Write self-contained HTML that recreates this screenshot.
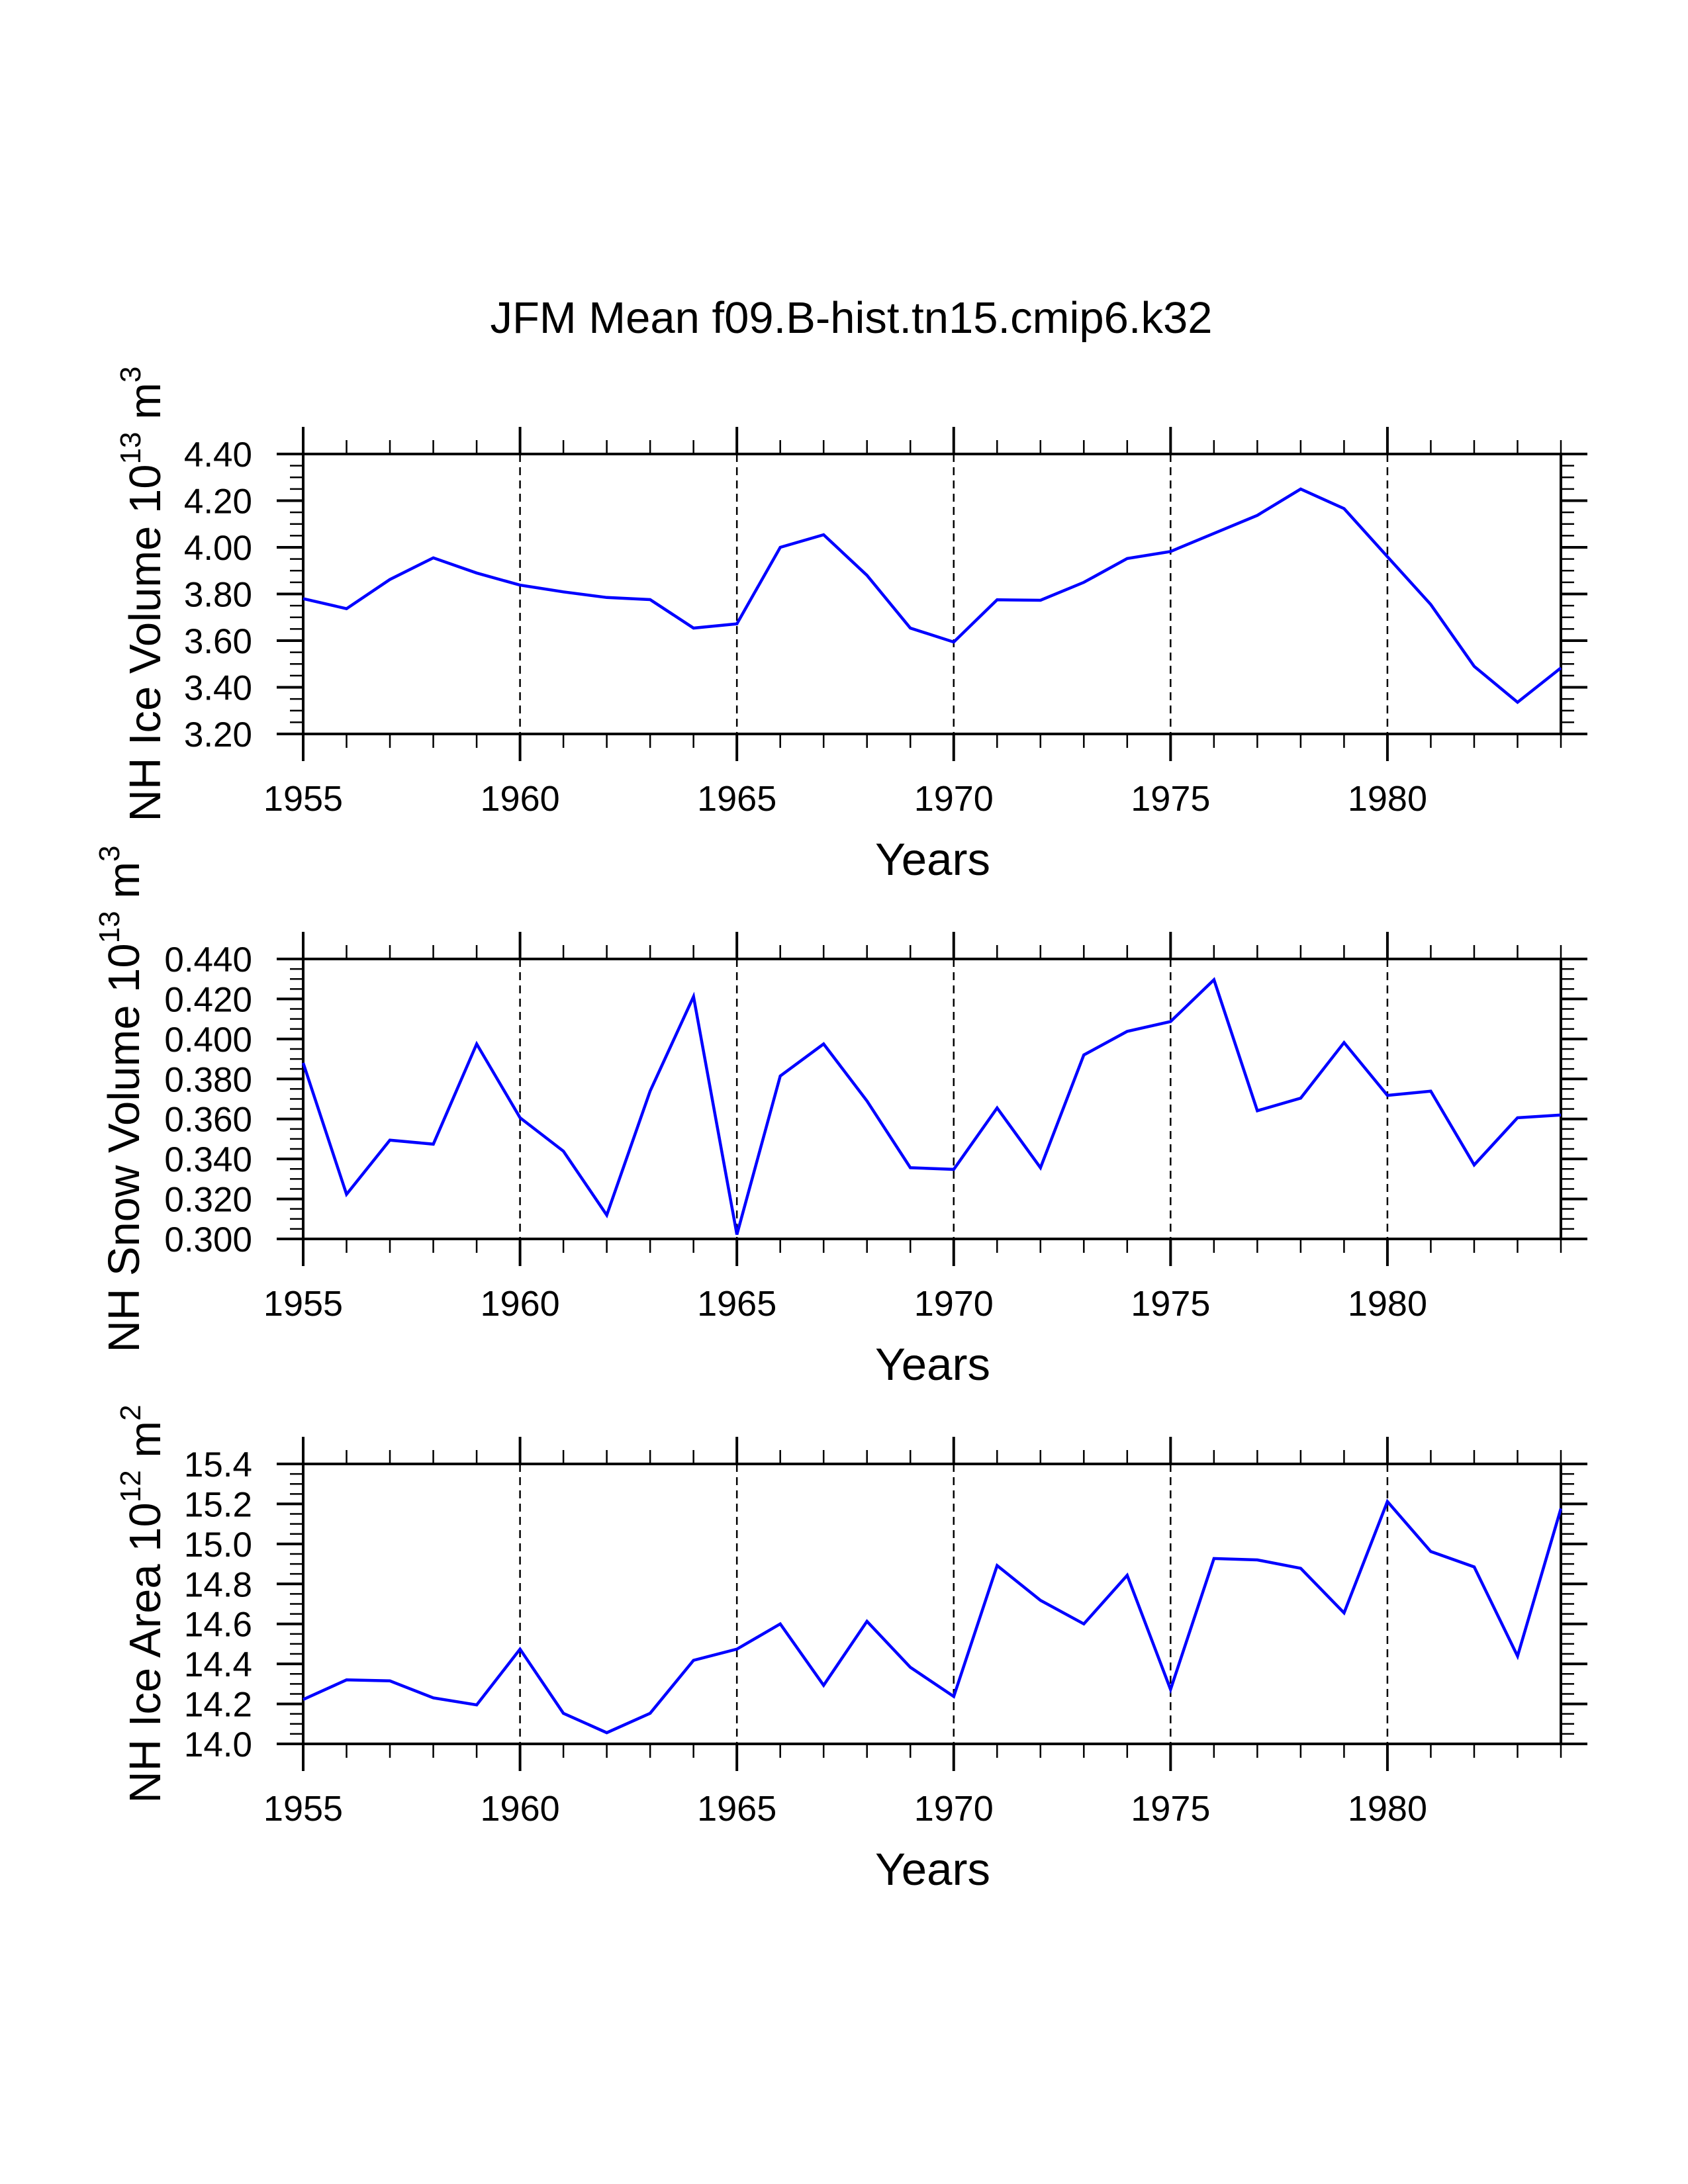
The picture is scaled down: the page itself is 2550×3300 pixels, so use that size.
<!DOCTYPE html>
<html><head><meta charset="utf-8"><style>
html,body{margin:0;padding:0;background:#fff}
svg{display:block}
text{font-family:"Liberation Sans",Arial,sans-serif;fill:#000}
</style></head><body>
<svg id="chart" width="2550" height="3300" viewBox="0 0 2550 3300" xmlns="http://www.w3.org/2000/svg">
<rect width="2550" height="3300" fill="#fff"/>
<text x="1286" y="503" font-size="67" text-anchor="middle">JFM Mean f09.B-hist.tn15.cmip6.k32</text>
</svg>
<script>
const years = [1955,1956,1957,1958,1959,1960,1961,1962,1963,1964,1965,1966,1967,1968,1969,1970,1971,1972,1973,1974,1975,1976,1977,1978,1979,1980,1981,1982,1983,1984];
const iceVolume = [3.78,3.737,3.862,3.955,3.89,3.838,3.809,3.785,3.776,3.654,3.672,4.00,4.054,3.88,3.654,3.594,3.775,3.773,3.85,3.952,3.982,4.06,4.137,4.25,4.166,3.96,3.755,3.49,3.336,3.483];
const snowVolume = [0.388,0.3223,0.3494,0.3474,0.3975,0.3606,0.3439,0.3119,0.3739,0.4212,0.3022,0.3815,0.3975,0.369,0.3356,0.3348,0.3655,0.3356,0.392,0.4038,0.4087,0.4296,0.3641,0.3704,0.3982,0.3718,0.3739,0.337,0.3606,0.362];
const iceArea = [14.222,14.32,14.315,14.23,14.195,14.474,14.153,14.056,14.153,14.418,14.474,14.60,14.293,14.613,14.383,14.237,14.892,14.718,14.60,14.843,14.272,14.927,14.92,14.878,14.655,15.212,14.962,14.885,14.439,15.177];
const xTickLabels = ["1955","1960","1965","1970","1975","1980"];
const iceVolTicks = ["3.20","3.40","3.60","3.80","4.00","4.20","4.40"];
const snowVolTicks = ["0.300","0.320","0.340","0.360","0.380","0.400","0.420","0.440"];
const iceAreaTicks = ["14.0","14.2","14.4","14.6","14.8","15.0","15.2","15.4"];

const NS = "http://www.w3.org/2000/svg";
const svg = document.getElementById('chart');
const X0 = 458, X1 = 2358, PH = 423;
const xMin = 1955, xMax = 1984;
function xScale(v){ return X0 + (v - xMin) / (xMax - xMin) * (X1 - X0); }
function mk(tag, attrs, parent){ const e = document.createElementNS(NS, tag); for (const k in attrs) e.setAttribute(k, attrs[k]); (parent||svg).appendChild(e); return e; }

const panels = [
  {name:'ice-volume', top:686, ticks:iceVolTicks, vals:iceVolume, minorDiv:4, labelX:242, title:'NH Ice Volume 10', exp:'13', unit:' m', uexp:'3'},
  {name:'snow-volume', top:1449, ticks:snowVolTicks, vals:snowVolume, minorDiv:4, labelX:210, title:'NH Snow Volume 10', exp:'13', unit:' m', uexp:'3'},
  {name:'ice-area', top:2212, ticks:iceAreaTicks, vals:iceArea, minorDiv:4, labelX:242, title:'NH Ice Area 10', exp:'12', unit:' m', uexp:'2'}
];

panels.forEach(p => {
  const g = mk('g', {});
  
  
  const yMin = parseFloat(p.ticks[0]), yMax = parseFloat(p.ticks[p.ticks.length-1]);
  const Y0 = p.top, Y1 = p.top + PH;
  const yScale = v => Y1 - (v - yMin) / (yMax - yMin) * PH;

  // grid lines (dashed) at 5-year majors interior
  for (let yr = 1960; yr <= 1980; yr += 5) {
    const gl = mk('line', {x1:xScale(yr), x2:xScale(yr), y1:Y0, y2:Y1, stroke:'#000', 'stroke-width':2.5, 'stroke-dasharray':'12 8'}, g);
    
    
  }
  // x ticks
  for (let yr = xMin; yr <= xMax; yr++) {
    const major = (yr % 5 === 0);
    const len = major ? 41 : 21;
    const w = major ? 4 : 2.5;
    mk('line', {x1:xScale(yr), x2:xScale(yr), y1:Y0, y2:Y0 - len, stroke:'#000', 'stroke-width':w}, g);
    mk('line', {x1:xScale(yr), x2:xScale(yr), y1:Y1, y2:Y1 + len, stroke:'#000', 'stroke-width':w}, g);
  }
  // y ticks
  const n = p.ticks.length - 1;
  for (let i = 0; i <= n * p.minorDiv; i++) {
    const v = yMin + (yMax - yMin) * i / (n * p.minorDiv);
    const y = yScale(v);
    const major = (i % p.minorDiv === 0);
    const len = major ? 40 : 20;
    const w = major ? 4 : 2.5;
    mk('line', {x1:X0, x2:X0 - len, y1:y, y2:y, stroke:'#000', 'stroke-width':w}, g);
    mk('line', {x1:X1, x2:X1 + len, y1:y, y2:y, stroke:'#000', 'stroke-width':w}, g);
  }
  // frame
  const fr = mk('rect', {x:X0, y:Y0, width:X1 - X0, height:PH, fill:'none', stroke:'#000', 'stroke-width':4}, g);
  
  
  // y tick labels
  p.ticks.forEach(t => {
    const tx = mk('text', {x:381, y:yScale(parseFloat(t)) + 19, 'font-size':53, 'text-anchor':'end'}, g);
    tx.textContent = t;
    
    
  });
  // x tick labels
  xTickLabels.forEach(t => {
    const tx = mk('text', {x:xScale(parseFloat(t)), y:Y1 + 116, 'font-size':54, 'text-anchor':'middle'}, g);
    tx.textContent = t;
    
    
  });
  // x axis title
  const xt = mk('text', {x:1409, y:Y1 + 213, 'font-size':69, 'text-anchor':'middle'}, g);
  xt.textContent = 'Years';
  
  
  // y axis title
  const cy = Y0 + PH / 2;
  const yt = mk('text', {x:p.labelX, y:cy, 'font-size':67, 'text-anchor':'middle', transform:'rotate(-90 ' + p.labelX + ' ' + cy + ')'}, g);
  
  
  const s1 = mk('tspan', {}, yt); s1.textContent = p.title;
  const s2 = mk('tspan', {dy:-30, 'font-size':44}, yt); s2.textContent = p.exp;
  const s3 = mk('tspan', {dy:30}, yt); s3.textContent = p.unit;
  const s4 = mk('tspan', {dy:-30, 'font-size':44}, yt); s4.textContent = p.uexp;
  // data line
  const pts = p.vals.map((v, i) => xScale(years[i]).toFixed(1) + ',' + yScale(v).toFixed(1)).join(' ');
  const pl = mk('polyline', {points:pts, fill:'none', stroke:'#0000ff', 'stroke-width':4.5, 'stroke-linejoin':'miter'}, g);
  
  
});
</script>
</body></html>
